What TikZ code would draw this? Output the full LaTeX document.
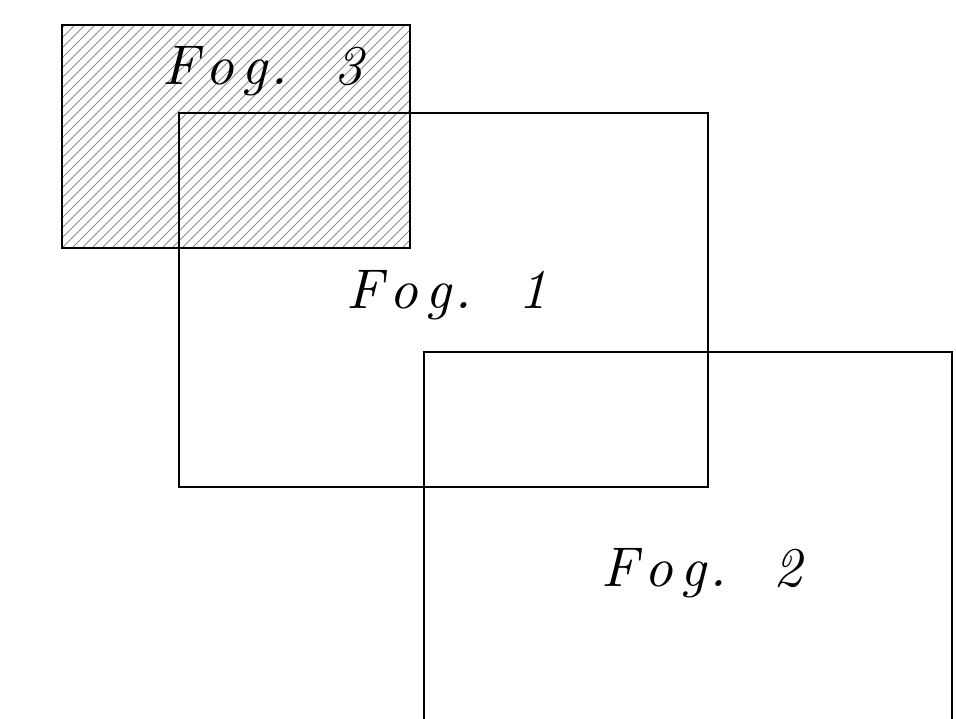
\documentclass[tikz,border=0pt]{standalone}
\newcommand\gl[1]{\makebox[0pt][c]{\scalebox{5.6}{\fontsize{10}{12}\selectfont\itshape #1}}}
\newcommand\foglabel[1]{\gl{F}\hspace{39pt}\gl{o}\hspace{34.5pt}\gl{g}\hspace{24.5pt}\gl{.}\hspace{70pt}\gl{#1}}
\begin{document}
\begin{tikzpicture}[x=1pt,y=-1pt,
  frame/.style={draw=black,line width=2pt},
  hatch/.style={draw=black!45,line width=0.9pt},
  label/.style={inner sep=0pt,anchor=base west}]
\useasboundingbox[fill=white] (0,0) rectangle (956,719);
% corner coordinates
\coordinate (r3a) at (62,25);  \coordinate (r3b) at (410,248);
\coordinate (r1a) at (179,113); \coordinate (r1b) at (708,487);
% hatching of Fog. 3
\begin{scope}
  \clip (r3a) rectangle (r3b);
  \foreach \i in {-240,-230,...,360}
    \draw[hatch] (62+\i,258) -- ++(300,-300);
\end{scope}
\draw[frame] (r3a) rectangle (r3b);
\draw[frame] (r1a) rectangle (r1b);
\draw[frame] (424,740) -- (424,352) -- (952,352) -- (952,740);
\node[label] (t3) at (180.5,85) {\foglabel{3}};
\node[label] (t1) at (365,309) {\foglabel{1}};
\node[label] (t2) at (620,586) {\foglabel{2}};
\end{tikzpicture}
\end{document}
